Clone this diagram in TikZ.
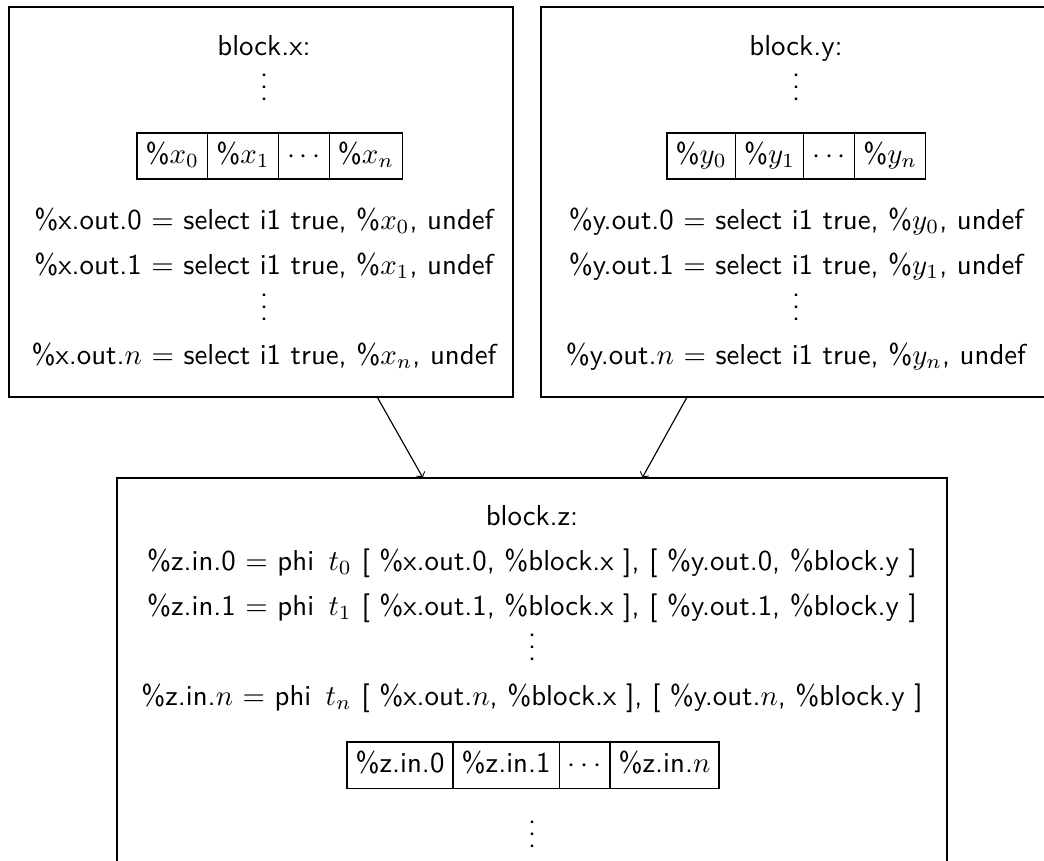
\documentclass[tikz,border=0pt]{standalone}
\usetikzlibrary{positioning}
\newcommand{\vdotz}{\vbox{\baselineskip4pt\lineskiplimit0pt\hbox{.}\hbox{.}\hbox{.}}}
\begin{document}
\begin{tikzpicture}[x=0.347pt, y=-0.347pt, font=\sffamily,
  block/.style={draw, inner sep=0pt, outer sep=0pt},
  cell/.style={draw, minimum height=16pt, text height=7.5pt, text depth=2.5pt,
    inner xsep=3pt, inner ysep=0pt, outer sep=0pt},
  line/.style={anchor=base, inner sep=0pt}]
  \useasboundingbox (0,0) rectangle (1044,860);

  % block x
  \node[block, minimum width=174.9pt, minimum height=135.3pt] (blockx) at (261,202) {};
  \node[line] (xname) at (264,55) {block.x:};
  \node[line] (xdots) at (264,100) {\vdotz};
  \node[cell, anchor=west] (x0) at (137,156) {\%$x_0$};
  \node[cell, right=0pt of x0] (x1) {\%$x_1$};
  \node[cell, right=0pt of x1] (xd) {$\cdots$};
  \node[cell, right=0pt of xd] (xn) {\%$x_n$};
  \node[line] (xout0) at (264,229) {\%x.out.0 $=$ select i1 true, \%$x_0$, undef};
  \node[line] (xout1) at (264,274) {\%x.out.1 $=$ select i1 true, \%$x_1$, undef};
  \node[line] (xoutd) at (264,320) {\vdotz};
  \node[line] (xoutn) at (264,364) {\%x.out.$n$ $=$ select i1 true, \%$x_n$, undef};

  % block y
  \node[block, minimum width=175.6pt, minimum height=135.3pt] (blocky) at (794,202) {};
  \node[line] (yname) at (796,55) {block.y:};
  \node[line] (ydots) at (796,100) {\vdotz};
  \node[cell, anchor=west] (y0) at (667,156) {\%$y_0$};
  \node[cell, right=0pt of y0] (y1) {\%$y_1$};
  \node[cell, right=0pt of y1] (yd) {$\cdots$};
  \node[cell, right=0pt of yd] (yn) {\%$y_n$};
  \node[line] (yout0) at (796,229) {\%y.out.0 $=$ select i1 true, \%$y_0$, undef};
  \node[line] (yout1) at (796,274) {\%y.out.1 $=$ select i1 true, \%$y_1$, undef};
  \node[line] (youtd) at (796,320) {\vdotz};
  \node[line] (youtn) at (796,364) {\%y.out.$n$ $=$ select i1 true, \%$y_n$, undef};

  % block z (runs off the bottom)
  \node[block, minimum width=288pt, minimum height=146.4pt] (blockz) at (532,689) {};
  \node[line] (zname) at (532,525) {block.z:};
  \node[line] (zin0) at (532,570) {\%z.in.0 $=$ phi \,$t_0$ [ \%x.out.0, \%block.x ], [ \%y.out.0, \%block.y ]};
  \node[line] (zin1) at (532,615) {\%z.in.1 $=$ phi \,$t_1$ [ \%x.out.1, \%block.x ], [ \%y.out.1, \%block.y ]};
  \node[line] (zind) at (532,660) {\vdotz};
  \node[line] (zinn) at (532,705) {\%z.in.$n$ $=$ phi \,$t_n$ [ \%x.out.$n$, \%block.x ], [ \%y.out.$n$, \%block.y ]};
  \node[cell, anchor=west] (z0) at (347,765) {\%z.in.0};
  \node[cell, right=0pt of z0] (z1) {\%z.in.1};
  \node[cell, right=0pt of z1] (zd) {$\cdots$};
  \node[cell, right=0pt of zd] (zn) {\%z.in.$n$};
  \node[line] (zrest) at (532,847) {\vdotz};

  % edges
  \draw[->] ([xshift=40.3pt]blockx.south) -- ([xshift=-37.8pt]blockz.north);
  \draw[->] ([xshift=-37.1pt]blocky.south) -- ([xshift=38.2pt]blockz.north);
\end{tikzpicture}
\end{document}
